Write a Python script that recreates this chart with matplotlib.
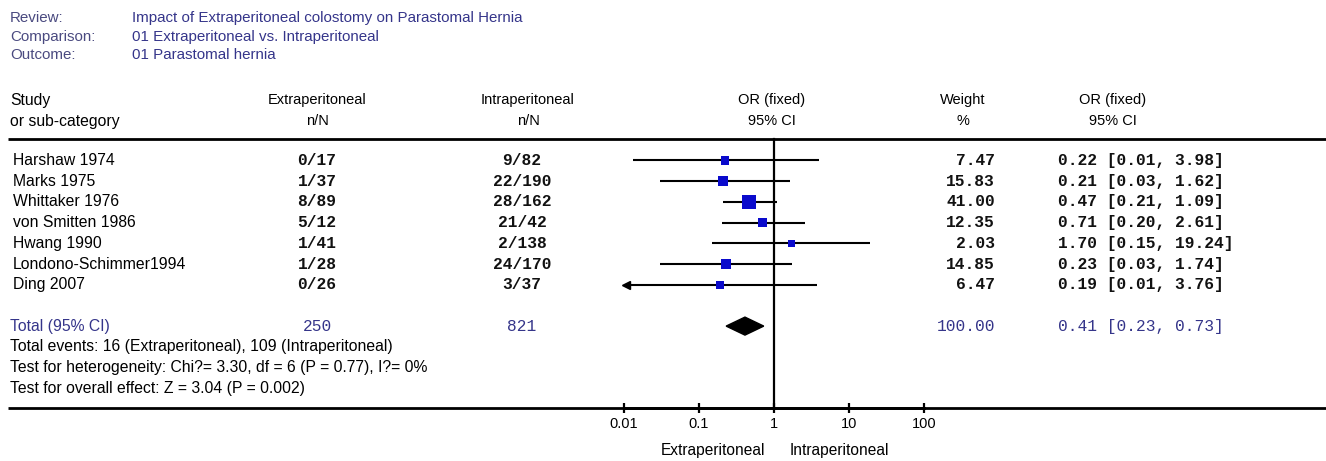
import numpy as np
import matplotlib.pyplot as plt
from matplotlib.patches import Polygon
from matplotlib.ticker import NullLocator

# ---- data ----
studies = ["Harshaw 1974", "Marks 1975", "Whittaker 1976", "von Smitten 1986",
           "Hwang 1990", "Londono-Schimmer1994", "Ding 2007"]
extra_n = [0, 1, 8, 5, 1, 1, 0]
extra_N = [17, 37, 89, 12, 41, 28, 26]
intra_n = [9, 22, 28, 21, 2, 24, 3]
intra_N = [82, 190, 162, 42, 138, 170, 37]
weights = [7.47, 15.83, 41.00, 12.35, 2.03, 14.85, 6.47]
odds = [0.22, 0.21, 0.47, 0.71, 1.70, 0.23, 0.19]
ci_lo = [0.013, 0.03, 0.21, 0.20, 0.15, 0.03, 0.008]
ci_hi = [3.98, 1.62, 1.09, 2.61, 19.24, 1.74, 3.76]

total_weight = 100.00
total_or = 0.41
total_lo = 0.23
total_hi = 0.73

xticks = [0.01, 0.1, 1, 10, 100]
xtick_labels = ["0.01", "0.1", "1", "10", "100"]

# ---- layout (pixels) ----
W, H = 1326, 461
X0, X1 = 624, 924          # plot area spans 0.01 .. 100
ROW0, ROW_H = 160.5, 20.7
RULE_TOP, AXIS_Y = 139, 408
NAVY = "#35358a"
SANS = "Liberation Sans"
MONO = "Liberation Mono"
BODY = 11.3

fig = plt.figure(figsize=(W / 100, H / 100), dpi=100)
bg = fig.add_axes([0, 0, 1, 1])
bg.set_xlim(0, W)
bg.set_ylim(H, 0)
bg.axis("off")

ax = fig.add_axes([X0 / W, 0, (X1 - X0) / W, 1])
ax.set_xscale("log")
ax.set_xlim(xticks[0], xticks[-1])
ax.set_ylim(H, 0)
ax.patch.set_visible(False)


def row(i):
    return ROW0 + ROW_H * i


# header block
for i, (lab, val) in enumerate([("Review:", "Impact of Extraperitoneal colostomy on Parastomal Hernia"),
                                 ("Comparison:", "01 Extraperitoneal vs. Intraperitoneal"),
                                 ("Outcome:", "01 Parastomal hernia")]):
    y = 18 + 18.5 * i
    bg.text(10, y, lab, family=SANS, fontsize=10.9, color="#4a4a80", va="center")
    bg.text(132, y, val, family=SANS, fontsize=10.9, color=NAVY, va="center")

# column headers
hdr = dict(family=SANS, fontsize=10.5, va="center", ha="center")
bg.text(10, 100, "Study", family=SANS, fontsize=BODY, va="center")
bg.text(10, 121, "or sub-category", family=SANS, fontsize=BODY, va="center")
for x, a, b in [(317, "Extraperitoneal", "n/N"), (528, "Intraperitoneal", "n/N"),
                (772, "OR (fixed)", "95% CI"), (963, "Weight", "%"),
                (1113, "OR (fixed)", "95% CI")]:
    bg.text(x, 100, a, **hdr)
    bg.text(x, 121, b, **hdr)

# rules
bg.hlines([RULE_TOP, AXIS_Y], 8, W, color="black", lw=2.0)

# study rows
mono = dict(family=MONO, fontsize=11.7, fontweight="bold", va="center", color="#111111")
for i, name in enumerate(studies):
    y = row(i)
    bg.text(13, y, name, family=SANS, fontsize=BODY, va="center")
    bg.text(317, y, f"{extra_n[i]}/{extra_N[i]}", ha="center", **mono)
    bg.text(522, y, f"{intra_n[i]}/{intra_N[i]}", ha="center", **mono)
    bg.text(995, y, f"{weights[i]:.2f}", ha="right", **mono)
    bg.text(1058, y, f"{odds[i]:.2f} [{ci_lo[i]:.2f}, {ci_hi[i]:.2f}]", ha="left", **mono)

# CI lines, arrows where the interval leaves the scale, weighted squares
for i in range(len(studies)):
    y = row(i)
    lo = max(ci_lo[i], xticks[0] * 1.05)
    hi = min(ci_hi[i], xticks[-1])
    ax.plot([lo, hi], [y, y], color="black", lw=1.5, solid_capstyle="butt", zorder=2)
    if ci_lo[i] < xticks[0]:
        ax.plot(lo, y, marker="<", ms=6, color="black", clip_on=False, zorder=2)
side_px = 6.7 + 0.18 * np.array(weights)
ax.scatter(odds, [row(i) for i in range(len(studies))], marker="s",
           s=(side_px * 0.72) ** 2, color="#0a0acc", linewidths=0, zorder=3)

# total row
yt = row(8)
tot = dict(family=MONO, fontsize=11.7, color=NAVY, va="center")
bg.text(10, yt, "Total (95% CI)", family=SANS, fontsize=BODY, color=NAVY, va="center")
bg.text(317, yt, f"{sum(extra_N)}", ha="center", **tot)
bg.text(522, yt, f"{sum(intra_N)}", ha="center", **tot)
bg.text(995, yt, f"{total_weight:.2f}", ha="right", **tot)
bg.text(1058, yt, f"{total_or:.2f} [{total_lo:.2f}, {total_hi:.2f}]", ha="left", **tot)
ax.add_patch(Polygon([[total_lo, yt], [total_or, yt - 9], [total_hi, yt], [total_or, yt + 9]],
                     closed=True, color="black", zorder=3))

# footnotes
notes = [f"Total events: {sum(extra_n)} (Extraperitoneal), {sum(intra_n)} (Intraperitoneal)",
         "Test for heterogeneity: Chi?= 3.30, df = 6 (P = 0.77), I?= 0%",
         "Test for overall effect: Z = 3.04 (P = 0.002)"]
for k, t in enumerate(notes):
    bg.text(10, row(9 + k), t, family=SANS, fontsize=BODY, va="center")

# line of no effect and axis
ax.plot([1, 1], [RULE_TOP, AXIS_Y], color="black", lw=1.6, zorder=1)
for s in ["top", "left", "right"]:
    ax.spines[s].set_visible(False)
ax.spines["bottom"].set_position(("data", AXIS_Y))
ax.spines["bottom"].set_linewidth(2.0)
ax.yaxis.set_visible(False)
ax.set_xticks(xticks)
ax.set_xticklabels(xtick_labels, family=SANS, fontsize=10.5)
ax.xaxis.set_minor_locator(NullLocator())
ax.tick_params(axis="x", direction="inout", length=7, width=1.6, pad=3)

bg.text(765, 450, "Extraperitoneal", family=SANS, fontsize=11.2, ha="right", va="center")
bg.text(790, 450, "Intraperitoneal", family=SANS, fontsize=11.2, ha="left", va="center")

fig.savefig("out.png", dpi=100)
